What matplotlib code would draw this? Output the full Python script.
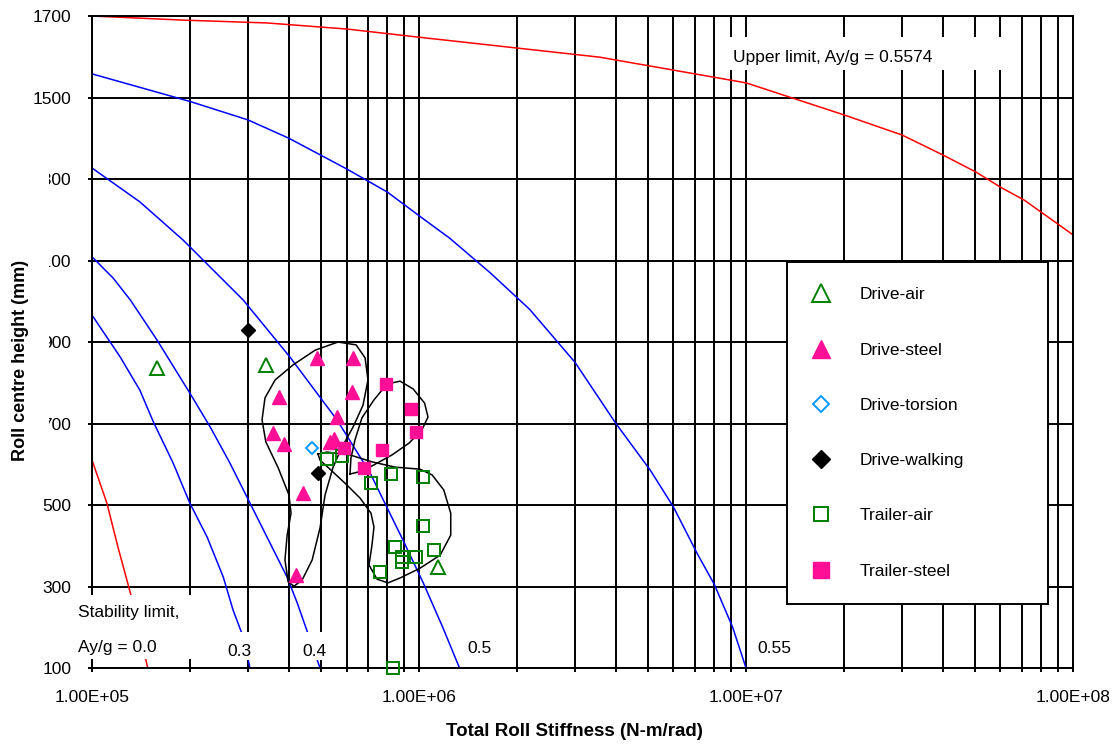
import matplotlib
matplotlib.use("Agg")
import matplotlib.pyplot as plt
from matplotlib.patches import Rectangle
from matplotlib.ticker import FixedLocator, FuncFormatter, LogLocator, NullFormatter

plt.rcParams['font.family'] = ['Liberation Sans', 'DejaVu Sans']

# Lateral acceleration threshold lines (Ay/g), stiffness in N-m/rad, height in mm
k_stab = [1.0e5, 1.11e5, 1.20e5, 1.31e5, 1.48e5]
h_stab = [610, 505, 397, 284, 100]

k_03 = [1.0e5, 1.22e5, 1.40e5, 1.54e5, 1.77e5, 1.99e5, 2.25e5, 2.52e5, 2.70e5, 2.90e5, 3.04e5]
h_03 = [966, 863, 782, 704, 603, 505, 421, 323, 242, 176, 100]

k_04 = [1.0e5, 1.16e5, 1.31e5, 1.58e5, 1.99e5, 2.30e5, 2.64e5, 3.04e5, 3.43e5, 3.95e5, 4.24e5, 4.98e5]
h_04 = [1109, 1057, 1003, 905, 775, 691, 603, 505, 421, 323, 260, 100]

k_05 = [1.0e5, 1.40e5, 1.90e5, 2.90e5, 4.03e5, 5.61e5, 7.08e5, 8.93e5, 1.03e6, 1.18e6, 1.33e6]
h_05 = [1327, 1244, 1150, 1003, 863, 709, 579, 414, 309, 201, 100]

k_055 = [1.0e5, 2.0e5, 3.0e5, 4.0e5, 6.0e5, 8.0e5, 1.0e6, 1.24e6, 1.65e6, 2.18e6,
         3.0e6, 4.0e6, 5.1e6, 6.0e6, 7.1e6, 8.0e6, 9.1e6, 1.0e7]
h_055 = [1558, 1490, 1445, 1400, 1325, 1268, 1210, 1155, 1070, 980,
         850, 700, 585, 495, 380, 305, 200, 100]

k_upper = [1.0e5, 1.9e5, 3.43e5, 6.03e5, 1.0e6, 3.57e6, 1.0e7, 2.0e7, 3.0e7,
           4.0e7, 5.05e7, 6.0e7, 7.1e7, 1.0e8]
h_upper = [1700, 1690, 1683, 1668, 1648, 1599, 1536, 1457, 1408,
           1359, 1317, 1280, 1248, 1163]

# Measured vehicles
drive_air_k = [1.58e5, 3.41e5, 1.14e6]
drive_air_h = [836, 844, 348]
drive_steel_k = [4.88e5, 6.28e5, 3.73e5, 6.24e5, 5.61e5, 3.58e5, 3.87e5, 5.34e5, 5.50e5, 4.42e5, 4.21e5]
drive_steel_h = [861, 861, 765, 777, 716, 677, 650, 655, 662, 529, 328]
drive_torsion_k = [4.71e5]
drive_torsion_h = [640]
drive_walking_k = [3.00e5, 4.91e5]
drive_walking_h = [929, 579]
trailer_air_k = [5.23e5, 5.81e5, 8.21e5, 1.03e6, 7.13e5, 1.03e6, 8.45e5, 1.11e6,
                 8.87e5, 8.87e5, 9.79e5, 7.60e5, 8.33e5]
trailer_air_h = [613, 620, 576, 569, 554, 448, 397, 390, 372, 360, 372, 336, 100]
trailer_steel_k = [7.93e5, 9.45e5, 9.79e5, 7.71e5, 5.90e5, 6.79e5]
trailer_steel_h = [797, 736, 679, 635, 640, 591]

# Hand-drawn group outlines
steel_loop_k = [5.65e5, 4.81e5, 4.12e5, 3.63e5, 3.38e5, 3.31e5, 3.40e5, 3.71e5, 4.00e5,
                4.06e5, 3.95e5, 3.89e5, 3.98e5, 4.15e5, 4.39e5, 4.71e5, 4.98e5, 5.16e5,
                5.46e5, 5.81e5, 6.28e5, 6.74e5, 6.98e5, 6.84e5, 6.42e5, 5.65e5]
steel_loop_h = [900, 880, 844, 807, 763, 709, 655, 591, 525,
                480, 426, 365, 311, 301, 316, 365, 444, 525,
                593, 642, 691, 745, 807, 861, 893, 900]
tsteel_loop_k = [6.15e5, 6.19e5, 6.37e5, 6.69e5, 7.28e5, 7.98e5, 8.75e5, 9.59e5,
                 1.04e6, 1.065e6, 1.02e6, 9.32e5, 8.27e5, 7.18e5, 6.51e5, 6.15e5]
tsteel_loop_h = [576, 615, 660, 714, 758, 797, 804, 785,
                 750, 716, 684, 652, 623, 596, 581, 576]
tair_loop_k = [4.91e5, 5.23e5, 6.15e5, 7.18e5, 8.45e5, 1.007e6, 1.096e6, 1.19e6,
               1.25e6, 1.25e6, 1.16e6, 1.007e6, 8.75e5, 8.04e5, 7.44e5, 7.03e5,
               7.18e5, 7.28e5, 7.13e5, 6.60e5, 6.02e5, 5.34e5, 4.98e5, 4.91e5]
tair_loop_h = [625, 630, 623, 606, 593, 588, 574, 537,
               480, 426, 377, 345, 321, 309, 318, 353,
               402, 446, 480, 517, 549, 588, 610, 625]

y_ticks = [100, 300, 500, 700, 900, 1100, 1300, 1500, 1700]

GREEN = '#008000'
PINK = '#FF0F96'
FS = 12.5

fig = plt.figure(figsize=(11.13, 7.49), dpi=100)
ax = fig.add_axes([0.0827, 0.1081, 0.8814, 0.8705])
ax.set_xscale('log')
ax.set_xlim(1e5, 1e8)
ax.set_ylim(100, 1700)
ax.set_axisbelow(True)

ax.xaxis.set_major_locator(FixedLocator([1e5, 1e6, 1e7, 1e8]))
ax.xaxis.set_major_formatter(FuncFormatter(lambda v, pos: f"{v:.2E}"))
ax.xaxis.set_minor_locator(LogLocator(base=10, subs=range(2, 10)))
ax.xaxis.set_minor_formatter(NullFormatter())
ax.yaxis.set_major_locator(FixedLocator(y_ticks))
ax.grid(True, which='both', axis='x', color='black', lw=1.4)
ax.grid(True, which='major', axis='y', color='black', lw=1.4)
ax.tick_params(axis='both', which='both', direction='inout', length=6, width=1.4,
               colors='black', labelsize=FS)
ax.tick_params(axis='x', pad=13)
ax.tick_params(axis='y', pad=12)
for s in ax.spines.values():
    s.set_linewidth(1.4)

# threshold curves
ax.plot(k_stab, h_stab, color='red', lw=1.1)
ax.plot(k_upper, h_upper, color='red', lw=1.1, clip_on=False)
for k, h in [(k_03, h_03), (k_04, h_04), (k_05, h_05), (k_055, h_055)]:
    ax.plot(k, h, color='blue', lw=1.1)

for k, h in [(steel_loop_k, steel_loop_h), (tsteel_loop_k, tsteel_loop_h),
             (tair_loop_k, tair_loop_h)]:
    ax.plot(k, h, color='black', lw=1.1, zorder=2.5)

ax.plot(drive_air_k, drive_air_h, ls='none', marker='^', ms=10, mfc='white',
        mec=GREEN, mew=1.4, label='Drive-air', zorder=3)
ax.plot(drive_steel_k, drive_steel_h, ls='none', marker='^', ms=10.5, mfc=PINK,
        mec=PINK, label='Drive-steel', zorder=3)
ax.plot(drive_torsion_k, drive_torsion_h, ls='none', marker='D', ms=6.3, mfc='white',
        mec='#0099FF', mew=1.4, label='Drive-torsion', zorder=3)
ax.plot(drive_walking_k, drive_walking_h, ls='none', marker='D', ms=7, mfc='black',
        mec='black', label='Drive-walking', zorder=3)
ax.plot(trailer_air_k, trailer_air_h, ls='none', marker='s', ms=8, mfc='none',
        mec=GREEN, mew=1.4, label='Trailer-air', zorder=3, clip_on=False)
ax.plot(trailer_steel_k, trailer_steel_h, ls='none', marker='s', ms=9, mfc=PINK,
        mec=PINK, label='Trailer-steel', zorder=3)

# label boxes over the grid
def label_box(x0, y0, w, h):
    ax.add_patch(Rectangle((x0, y0), w, h, transform=ax.transAxes, facecolor='white',
                           edgecolor='none', zorder=5, clip_on=False))

label_box(-0.0224, 0.0138, 0.1376, 0.0982)
label_box(0.1325, 0.0123, 0.0367, 0.0429)
label_box(0.2080, 0.0123, 0.0367, 0.0429)
label_box(0.3782, 0.0123, 0.0377, 0.0460)
label_box(0.6728, 0.0123, 0.0489, 0.0460)
label_box(0.6453, 0.9172, 0.2885, 0.0506)

txt = dict(transform=ax.transAxes, fontsize=FS, va='center', ha='left', zorder=6)
ax.text(-0.0143, 0.0859, 'Stability limit,', **txt)
ax.text(-0.0143, 0.0322, 'Ay/g = 0.0', **txt)
ax.text(0.1376, 0.0261, '0.3', **txt)
ax.text(0.2141, 0.0261, '0.4', **txt)
ax.text(0.3823, 0.0307, '0.5', **txt)
ax.text(0.6779, 0.0307, '0.55', **txt)
ax.text(0.6534, 0.9371, 'Upper limit, Ay/g = 0.5574', **txt)

leg = ax.legend(loc='upper left', bbox_to_anchor=(0.7085, 0.0, 0.266, 0.6227),
                mode='expand', borderaxespad=0, fontsize=FS, frameon=True,
                fancybox=False, framealpha=1, edgecolor='black', borderpad=1.45,
                labelspacing=2.31, handlelength=1.0, handletextpad=1.74, numpoints=1,
                markerscale=1.25)
leg.get_frame().set_linewidth(1.4)
leg.set_zorder(7)

ax.set_xlabel('Total Roll Stiffness (N-m/rad)', fontsize=13.5, fontweight='bold', va='center')
ax.xaxis.set_label_coords(0.4913, -0.098)

# blank strip behind the vertical title
fig.patches.append(Rectangle((0, 0.4232), 0.0440, 0.3565, transform=fig.transFigure,
                             facecolor='white', edgecolor='none', zorder=1))
fig.text(0.018, 0.5194, 'Roll centre height (mm)', rotation=90, ha='center', va='center',
         fontsize=13, fontweight='bold', stretch='condensed',
         family=['Liberation Sans Narrow', 'Liberation Sans'], zorder=2)

fig.savefig('out.png', dpi=100)
